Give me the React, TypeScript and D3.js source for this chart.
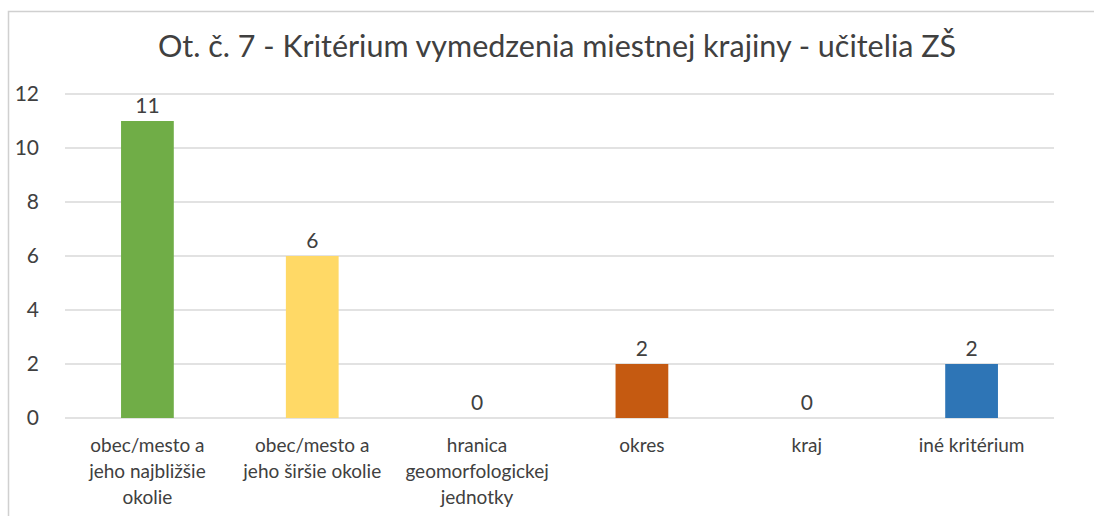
import * as d3 from "d3";
import React from "react";

const title = "Ot. č. 7 - Kritérium vymedzenia miestnej krajiny - učitelia ZŠ";
const categories = [
  ["obec/mesto a", "jeho najbližšie", "okolie"],
  ["obec/mesto a", "jeho širšie okolie"],
  ["hranica", "geomorfologickej", "jednotky"],
  ["okres"],
  ["kraj"],
  ["iné kritérium"],
];
const values = [11, 6, 0, 2, 0, 2];
const colors = ["#70AD47", "#FFD966", "#70AD47", "#C55A11", "#70AD47", "#2E75B6"];
const yTicks = [0, 2, 4, 6, 8, 10, 12];

export default function App() {
  const W = 1094;
  const H = 516;
  const margin = { top: 94, right: 40, bottom: 98, left: 65 };
  const innerW = W - margin.left - margin.right;
  const innerH = H - margin.top - margin.bottom;

  const x = d3.scaleBand<number>()
    .domain(d3.range(values.length))
    .range([0, innerW])
    .padding(0);
  const y = d3.scaleLinear().domain([0, 12]).range([innerH, 0]);
  const barW = x.bandwidth() * 0.32;
  const font = "Lato, 'Open Sans', sans-serif";

  return (
    <svg width={W} height={H} style={{ position: "absolute", left: 0, top: 0, background: "#fff" }}>
      <rect x={8.5} y={11.5} width={W} height={H} fill="#fff" stroke="#d0d0d0" strokeWidth={1.5} />
      <text x={W / 2 + 10} y={57} textAnchor="middle" fontFamily={font} fontSize={30.5} fill="#404040">
        {title}
      </text>
      <g transform={`translate(${margin.left},${margin.top})`}>
        {yTicks.map((t) => (
          <g key={t}>
            <line x1={0} x2={innerW} y1={y(t)} y2={y(t)} stroke="#d9d9d9" strokeWidth={1.5} />
            <text x={-26} y={y(t)} dy="0.35em" textAnchor="end" fontFamily={font} fontSize={21} fill="#404040">
              {t}
            </text>
          </g>
        ))}
        {values.map((v, i) => {
          const cx = (x(i) as number) + x.bandwidth() / 2;
          return (
            <g key={i}>
              {v > 0 && (
                <rect x={cx - barW / 2} y={y(v)} width={barW} height={innerH - y(v)} fill={colors[i]} />
              )}
              <text x={cx} y={y(v) - 8} textAnchor="middle" fontFamily={font} fontSize={21} fill="#404040">
                {v}
              </text>
              {categories[i].map((line, j) => (
                <text key={j} x={cx} y={innerH + 34 + j * 26} textAnchor="middle" fontFamily={font} fontSize={19} fill="#404040">
                  {line}
                </text>
              ))}
            </g>
          );
        })}
      </g>
    </svg>
  );
}
